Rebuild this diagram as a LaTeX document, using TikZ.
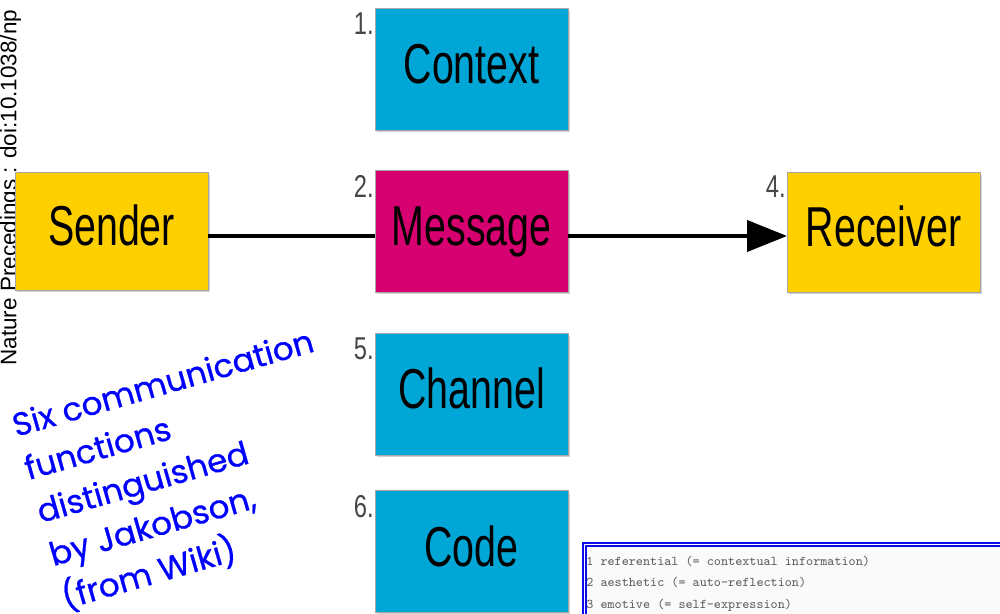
\documentclass[tikz,border=0pt]{standalone}
\usepackage{fontspec}
\setmainfont{Liberation Sans}
\newfontfamily\boxfont[FakeStretch=0.7]{Liberation Sans}
\newfontfamily\numfont[FakeStretch=0.75]{Liberation Sans}
\newfontfamily\handfont[FakeBold=0.7]{Poppins}
\usetikzlibrary{arrows.meta,shadows,calc}

\definecolor{cyanbox}{RGB}{0,166,214}
\definecolor{yellowbox}{RGB}{255,208,0}
\definecolor{magentabox}{RGB}{214,0,112}
\definecolor{notecolor}{RGB}{0,0,255}
\definecolor{listblue}{RGB}{10,10,235}

\tikzset{
  fnbox/.style={rectangle, inner sep=0pt, outer sep=0pt,
    minimum width=3.86cm, minimum height=2.44cm,
    draw=black!35, line width=0.4pt,
    drop shadow={shadow xshift=0.04cm, shadow yshift=-0.05cm, opacity=0.35},
    font=\boxfont\fontsize{32pt}{32pt}\selectfont,
    text height=0.82cm, text depth=0.22cm},
  numlabel/.style={anchor=base east, inner sep=0pt, text=black!72,
    font=\numfont\fontsize{18pt}{18pt}\selectfont},
  link/.style={line width=0.08cm, black},
  listline/.style={anchor=base west, inner sep=0pt, text=black!62,
    font=\ttfamily\fontsize{7.6pt}{7.6pt}\selectfont},
}

\begin{document}
\begin{tikzpicture}[x=0.02cm, y=-0.02cm]
\useasboundingbox (0,0) rectangle (1000,614);
\clip (0,0) rectangle (1000,614);
\fill[white] (0,0) rectangle (1000,614);

% repository stamp along the left edge
\node[rotate=90, anchor=base west, inner sep=0pt,
  font=\fontsize{12.8pt}{12.8pt}\selectfont] (stamp) at (16.5,366)
  {Nature Precedings : doi:10.1038/np};

% the six boxes of the model
\node[fnbox, fill=cyanbox]    (context)  at (471.5,69)  {Context};
\node[fnbox, fill=yellowbox, minimum height=2.36cm]  (sender)   at (111.5,231) {Sender};
\node[fnbox, fill=magentabox] (message)  at (471.5,231) {Message};
\node[fnbox, fill=yellowbox, minimum height=2.4cm]  (receiver) at (883.5,232) {Receiver};
\node[fnbox, fill=cyanbox]    (channel)  at (471.5,394) {Channel};
\node[fnbox, fill=cyanbox]    (code)     at (471.5,551.5) {Code};

% numbering
\node[numlabel] (n1) at ($(context.north west)+(-1,26)$)  {1.};
\node[numlabel] (n2) at ($(message.north west)+(-1,27)$)  {2.};
\node[numlabel] (n4) at ($(receiver.north west)+(-1,25)$) {4.};
\node[numlabel] (n5) at ($(channel.north west)+(-1,26)$)  {5.};
\node[numlabel] (n6) at ($(code.north west)+(-1,27)$)     {6.};

% sender -> message -> receiver
\draw[link] (sender.east |- 0,236) -- (message.west |- 0,236);
\draw[link, -{Triangle[length=0.8cm, width=0.62cm]}]
  (message.east |- 0,236) -- (receiver.west |- 0,236);

% handwritten note
\node[rotate=16, anchor=north west, inner sep=0pt, align=left, text=notecolor,
  font=\handfont\fontsize{18.5pt}{25.5pt}\selectfont] (note) at (9,413)
  {Six communication\\functions\\distinguished\\by Jakobson,\\(from Wiki)};

% list of functions
\fill[white!98!black] (584,545) rectangle (1010,620);
\node[listline] (f1) at (586,565) {1 referential (= contextual information)};
\node[listline] (f2) at (586,586) {2 aesthetic (= auto-reflection)};
\node[listline] (f3) at (586,608) {3 emotive (= self-expression)};
\draw[listblue, line width=0.045cm, double=white, double distance=0.025cm]
  (1010,544.5) -- (584.5,544.5) -- (584.5,620);
\end{tikzpicture}
\end{document}
